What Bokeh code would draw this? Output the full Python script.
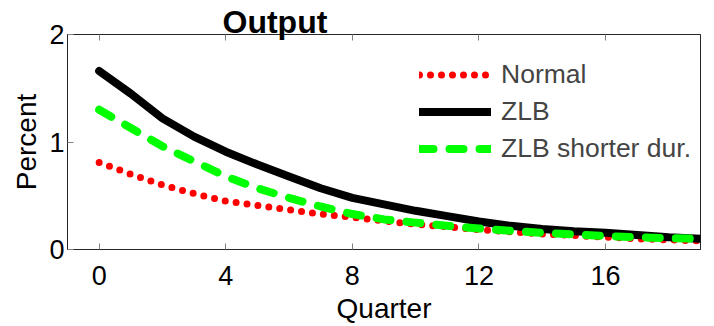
from bokeh.plotting import figure
from bokeh.models import Range1d, LinearAxis, FixedTicker, Legend, LegendItem, ColumnDataSource
from bokeh.embed import file_html
from bokeh.resources import INLINE

quarters = list(range(20))
normal = [0.81, 0.70, 0.60, 0.52, 0.45, 0.41, 0.37, 0.33, 0.30, 0.265,
          0.235, 0.21, 0.185, 0.165, 0.145, 0.13, 0.115, 0.10, 0.09, 0.08]
zlb = [1.66, 1.45, 1.22, 1.05, 0.91, 0.79, 0.68, 0.57, 0.48, 0.42,
       0.36, 0.31, 0.26, 0.22, 0.19, 0.17, 0.155, 0.135, 0.115, 0.10]
shorter = [1.30, 1.13, 0.96, 0.82, 0.68, 0.57, 0.48, 0.40, 0.33, 0.28,
           0.25, 0.22, 0.195, 0.175, 0.155, 0.14, 0.125, 0.115, 0.105, 0.10]
x_ticks = [0, 4, 8, 12, 16]
y_ticks = [0, 1, 2]
series_names = ["Normal", "ZLB", "ZLB shorter dur."]
title_text = "Output"

FONT = "Liberation Sans"

src = ColumnDataSource(dict(q=quarters, normal=normal, zlb=zlb, shorter=shorter))

p = figure(width=714, height=326, output_backend="svg", toolbar_location=None,
           x_range=Range1d(-1, 19), y_range=Range1d(0, 2),
           min_border_left=67, min_border_right=14, min_border_top=34, min_border_bottom=77)
p.background_fill_color = "white"
p.border_fill_color = "white"
p.outline_line_color = "#262626"
p.outline_line_width = 1
p.grid.visible = False

r_norm = p.line("q", "normal", source=src, line_color="#ff0000", line_width=7,
                line_dash="0 11", line_cap="round")
r_zlb = p.line("q", "zlb", source=src, line_color="black", line_width=8, line_cap="round")
r_short = p.line("q", "shorter", source=src, line_color="#00ff00", line_width=8,
                 line_dash="14 16", line_cap="round")

for ax in (p.xaxis[0], p.yaxis[0]):
    ax.axis_line_color = "#262626"
    ax.major_tick_in = 6
    ax.major_tick_out = 0
    ax.minor_tick_line_color = None
    ax.major_tick_line_color = "#808080"
    ax.major_label_text_font = FONT
    ax.major_label_text_font_size = "27px"
    ax.major_label_text_color = "black"
    ax.axis_label_text_font = FONT
    ax.axis_label_text_font_size = "28px"
    ax.axis_label_text_font_style = "normal"
    ax.axis_label_text_color = "black"

p.xaxis[0].ticker = FixedTicker(ticks=x_ticks)
p.yaxis[0].ticker = FixedTicker(ticks=y_ticks)
p.xaxis[0].axis_label = "Quarter"
p.yaxis[0].axis_label = "Percent"
p.xaxis[0].major_label_standoff = 16
p.xaxis[0].axis_label_standoff = 5
p.yaxis[0].major_label_standoff = 3
p.yaxis[0].axis_label_standoff = 4

top = LinearAxis(ticker=FixedTicker(ticks=x_ticks), axis_line_color="#262626",
                 major_tick_in=6, major_tick_out=0, minor_tick_line_color=None,
                 major_tick_line_color="#808080", major_label_text_font_size="1px",
                 major_label_overrides={t: "" for t in x_ticks},
                 major_label_standoff=0)
p.add_layout(top, "above")

p.title.text = title_text
p.title.align = "left"
p.title.offset = 155
p.title.vertical_align = "top"
p.title.standoff = -14
p.title.text_font = FONT
p.title.text_font_size = "32px"
p.title.text_font_style = "bold"
p.title.text_color = "black"

legend = Legend(items=[LegendItem(label=series_names[0], renderers=[r_norm]),
                       LegendItem(label=series_names[1], renderers=[r_zlb]),
                       LegendItem(label=series_names[2], renderers=[r_short])],
                location=(352, 82), orientation="vertical",
                glyph_width=72, glyph_height=37, label_height=37, spacing=0,
                padding=0, margin=0, label_standoff=10,
                label_text_font=FONT, label_text_font_size="26.5px",
                border_line_alpha=0, background_fill_alpha=0)
p.add_layout(legend)

open("out.html", "w").write(file_html(p, INLINE))
